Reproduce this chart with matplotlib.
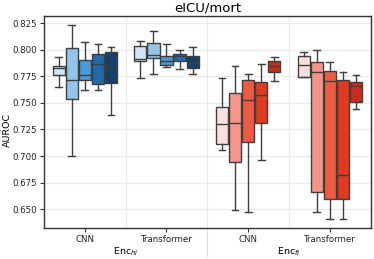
import matplotlib
matplotlib.use('agg')
import matplotlib.pyplot as plt
import numpy as np

# categories on the x axis, 5 hue levels each
CATEGORIES = ["CNN", "Transformer", "CNN", "Transformer"]
GROUPS = ["Enc$_{hi}$", "Enc$_{fl}$"]

# box stats per category (5 hue levels each): whislo, q1, med, q3, whishi
WHISLO = [
    [0.765, 0.700, 0.7625, 0.762, 0.739],
    [0.773, 0.777, 0.7836, 0.782, 0.777],
    [0.7055, 0.649, 0.647, 0.696, 0.771],
    [0.7745, 0.6475, 0.641, 0.641, 0.744],
]
Q1 = [
    [0.776, 0.754, 0.772, 0.768, 0.769],
    [0.789, 0.792, 0.786, 0.7895, 0.783],
    [0.711, 0.694, 0.7136, 0.731, 0.779],
    [0.7745, 0.6665, 0.660, 0.660, 0.751],
]
MED = [
    [0.783, 0.772, 0.7764, 0.787, 0.784],
    [0.791, 0.795, 0.789, 0.794, 0.7874],
    [0.7305, 0.7315, 0.7528, 0.757, 0.785],
    [0.7855, 0.779, 0.771, 0.6825, 0.766],
]
Q3 = [
    [0.7845, 0.8015, 0.790, 0.7964, 0.7983],
    [0.8037, 0.8065, 0.794, 0.7961, 0.7945],
    [0.746, 0.759, 0.7717, 0.770, 0.7895],
    [0.794, 0.7886, 0.7804, 0.772, 0.7695],
]
WHISHI = [
    [0.7936, 0.823, 0.807, 0.805, 0.8027],
    [0.808, 0.8175, 0.805, 0.800, 0.8024],
    [0.773, 0.7845, 0.7773, 0.7867, 0.7936],
    [0.7983, 0.800, 0.7883, 0.779, 0.7767],
]

BLUES = ['#d3e4f3', '#94c4e8', '#4b9ad8', '#2169aa', '#173f6c']
REDS = ['#fde0dd', '#f6958a', '#ef5a44', '#e13a1f', '#c92d1a']

EDGE = '#3f3f3f'


def main():
    fig = plt.figure(figsize=(3.74, 2.59), dpi=100)
    ax = fig.add_axes([0.1176, 0.1185, 0.8735, 0.8205])

    n_hue = 5
    step = 0.16
    bw = 0.15
    for ci in range(len(CATEGORIES)):
        palette = BLUES if ci < 2 else REDS
        for h in range(n_hue):
            pos = ci + (h - (n_hue - 1) / 2) * step
            stats = [{
                'whislo': WHISLO[ci][h], 'q1': Q1[ci][h], 'med': MED[ci][h],
                'q3': Q3[ci][h], 'whishi': WHISHI[ci][h], 'fliers': [],
            }]
            ax.bxp(stats, positions=[pos], widths=bw, capwidths=bw * 0.55,
                   patch_artist=True, showfliers=False, manage_ticks=False,
                   boxprops=dict(facecolor=palette[h], edgecolor=EDGE, linewidth=1.0),
                   medianprops=dict(color=EDGE, linewidth=1.0),
                   whiskerprops=dict(color=EDGE, linewidth=1.0),
                   capprops=dict(color=EDGE, linewidth=1.0))

    ax.set_xlim(-0.5, 3.5)
    ax.set_ylim(0.632, 0.832)
    ax.set_xticks(range(len(CATEGORIES)))
    ax.set_xticklabels(CATEGORIES, fontsize=6.2, color='#222222')
    yt = np.arange(0.650, 0.826, 0.025)
    ax.set_yticks(yt)
    ax.set_yticklabels(['%.3f' % v for v in yt], fontsize=6.2, color='#222222')
    ax.set_xticks([0.5, 1.5, 2.5], minor=True)
    ax.tick_params(axis='x', which='minor', length=0)
    ax.tick_params(axis='both', which='major', length=3, width=0.8,
                   color='#333333', pad=2)

    ax.grid(True, axis='y', color='#ebebeb', linewidth=0.8)
    ax.grid(True, axis='x', which='minor', color='#ebebeb', linewidth=0.8)
    ax.set_axisbelow(True)
    for sp in ax.spines.values():
        sp.set_color('#333333')
        sp.set_linewidth(1.0)

    fig.text(7 / 374, 0.5, 'AUROC', rotation=90, ha='center', va='center',
             fontsize=6.8)
    ax.set_title('eICU/mort', fontsize=9.5, pad=3)

    # group labels below tick labels
    trans = ax.get_xaxis_transform()
    ax.text(0.5, -0.108, GROUPS[0], transform=trans, ha='center', va='center',
            fontsize=6.8)
    ax.text(2.5, -0.108, GROUPS[1], transform=trans, ha='center', va='center',
            fontsize=6.8)
    ax.plot([1.5, 1.5], [0, -0.13], transform=trans, color='#dddddd',
            linewidth=0.8, clip_on=False)

    plt.savefig('out.png', dpi=100)


if __name__ == '__main__':
    main()
